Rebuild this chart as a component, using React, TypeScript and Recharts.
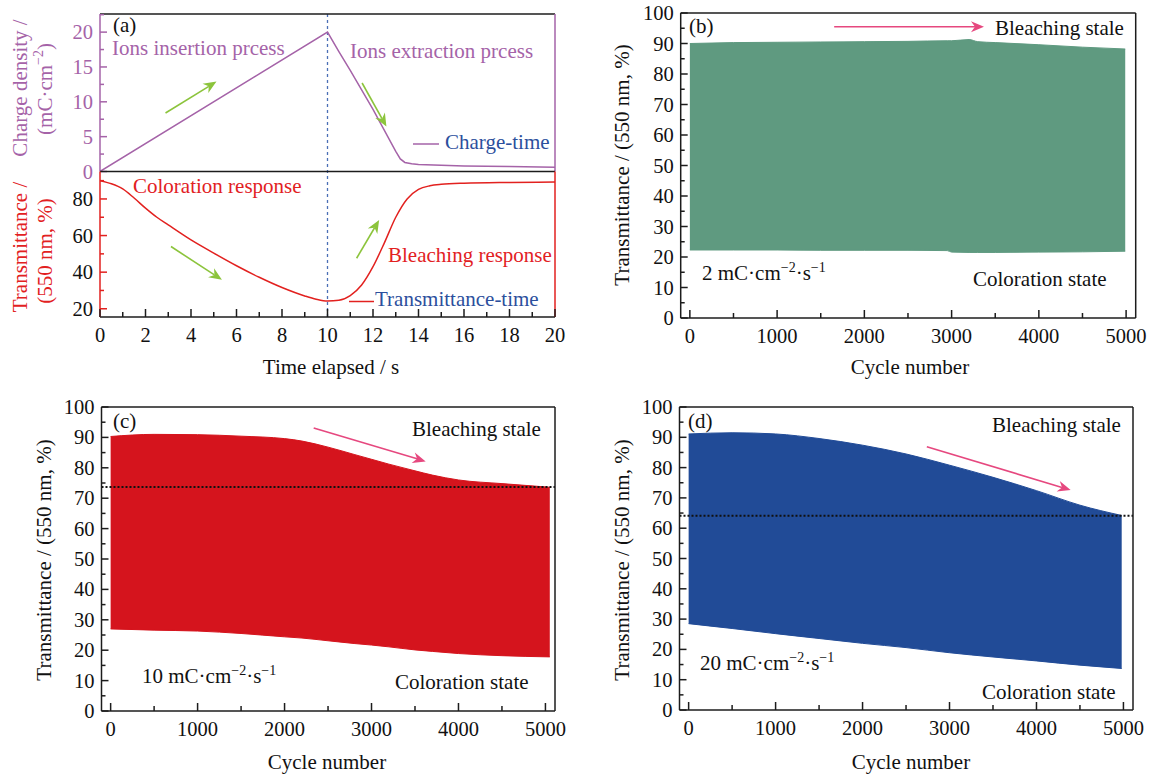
import React from "react";
import { LineChart, ComposedChart, Line, Area, XAxis, YAxis, ReferenceLine } from "recharts";

const FONT = '"Liberation Serif", "Times New Roman", serif';
const PURPLE = "#a563a8";
const RED = "#e2211f";
const BLUE = "#2c4f9d";
const GREEN_ARROW = "#8cc43c";
const PINK = "#e6487f";
const AXIS = "#1c1c1c";

// (a) charge density vs time
const chargeTime = [0, 10, 10.5, 11, 11.5, 12, 12.5, 13, 13.2, 13.4, 13.7, 14, 15, 16, 18, 20];
const chargeValues = [0, 20, 17.2, 14.5, 11.7, 8.9, 5.9, 2.9, 1.8, 1.3, 1.1, 1.0, 0.9, 0.8, 0.7, 0.6];

// (a) transmittance vs time
const transTime = [0, 0.5, 1, 1.5, 2, 2.5, 3, 4, 5, 6, 7, 8, 9, 9.5, 10, 10.5, 11, 11.5, 12, 12.5, 13, 13.5, 14, 14.5, 15, 16, 18, 20];
const transValues = [90, 88.3, 85.5, 80.5, 75, 70, 65.8, 57.6, 50.4, 43.5, 37.2, 31.6, 27, 25.2, 24.2, 24.6, 27.2, 33, 43, 56, 70, 80, 85.2, 87.2, 88, 88.6, 89, 89.2];

const timeTicks = [0, 1, 2, 3, 4, 5, 6, 7, 8, 9, 10, 11, 12, 13, 14, 15, 16, 17, 18, 19, 20];
const timeMajors = [0, 2, 4, 6, 8, 10, 12, 14, 16, 18, 20];
const chargeTicks = [0, 2.5, 5, 7.5, 10, 12.5, 15, 17.5, 20, 22.5];
const chargeMajors = [0, 5, 10, 15, 20];
const transTicks = [20, 30, 40, 50, 60, 70, 80, 90];
const transMajors = [20, 40, 60, 80];

// (b) 2 mC cm-2 s-1
const cyclesB = [0, 500, 1000, 1500, 2000, 2500, 2950, 3000, 3200, 3300, 3500, 4000, 4500, 4990];
const upperB = [90.0, 90.3, 90.4, 90.5, 90.6, 90.7, 90.9, 90.9, 91.3, 90.6, 90.3, 89.6, 88.8, 88.2];
const lowerB = [22.3, 22.3, 22.3, 22.2, 22.2, 22.2, 22.1, 21.6, 21.5, 21.5, 21.5, 21.6, 21.7, 21.9];

// (c) 10 mC cm-2 s-1
const cyclesC = [0, 500, 1000, 1500, 2000, 2200, 2500, 2800, 3000, 3200, 3500, 3700, 4000, 4500, 5050];
const upperC = [90.3, 91.0, 90.9, 90.4, 89.6, 88.8, 86.8, 84.4, 82.8, 81.2, 79.0, 77.6, 76.0, 74.8, 73.6];
const lowerC = [27.0, 26.6, 26.3, 25.5, 24.4, 24.0, 23.1, 22.2, 21.7, 21.1, 20.1, 19.6, 18.9, 18.2, 17.8];

// (d) 20 mC cm-2 s-1
const cyclesD = [0, 500, 1000, 1500, 2000, 2500, 3000, 3500, 4000, 4500, 4980];
const upperD = [91.1, 91.5, 91.1, 89.6, 87.4, 84.5, 80.8, 76.8, 72.4, 67.6, 64.2];
const lowerD = [28.5, 26.9, 25.2, 23.6, 22.0, 20.6, 18.9, 17.5, 16.2, 14.8, 13.7];

const cycleDomain = [-105, 5110];
const cycleTicks = [0, 500, 1000, 1500, 2000, 2500, 3000, 3500, 4000, 4500, 5000];
const cycleMajors = [0, 1000, 2000, 3000, 4000, 5000];
const pctTicks = [0, 5, 10, 15, 20, 25, 30, 35, 40, 45, 50, 55, 60, 65, 70, 75, 80, 85, 90, 95, 100];
const pctMajors = [0, 10, 20, 30, 40, 50, 60, 70, 80, 90, 100];

const chargeData = chargeTime.map((t, i) => ({ t, q: chargeValues[i] }));
const transData = transTime.map((t, i) => ({ t, tr: transValues[i] }));
const bandB = cyclesB.map((c, i) => ({ cycle: c, range: [lowerB[i], upperB[i]] }));
const bandC = cyclesC.map((c, i) => ({ cycle: c, range: [lowerC[i], upperC[i]] }));
const bandD = cyclesD.map((c, i) => ({ cycle: c, range: [lowerD[i], upperD[i]] }));

function xTick(majors: number[], color: string) {
  return (p: any) => {
    const { x, y, payload } = p;
    const major = majors.includes(payload.value);
    return (
      <g>
        <line x1={x} y1={y} x2={x} y2={y - (major ? 8 : 5)} stroke={color} strokeWidth={1.5} />
        {major && (
          <text x={x} y={y + 25} textAnchor="middle" fontFamily={FONT} fontSize={20.5} fill="#111">
            {payload.value}
          </text>
        )}
      </g>
    );
  };
}

function yTick(majors: number[], color: string, labelColor: string) {
  return (p: any) => {
    const { x, y, payload } = p;
    const major = majors.includes(payload.value);
    return (
      <g>
        <line x1={x} y1={y} x2={x + (major ? 7 : 4)} y2={y} stroke={color} strokeWidth={1.5} />
        {major && (
          <text x={x - 7} y={y + 7} textAnchor="end" fontFamily={FONT} fontSize={20.5} fill={labelColor}>
            {payload.value}
          </text>
        )}
      </g>
    );
  };
}

const arrowShape = (color: string, width = 1.6) => (p: any) => {
  const { x1, y1, x2, y2 } = p;
  const a = Math.atan2(y2 - y1, x2 - x1);
  const cos = Math.cos(a);
  const sin = Math.sin(a);
  const L = 13, W = 5.5, N = 9;
  const bx = x2 - L * cos, by = y2 - L * sin;
  const nx = x2 - N * cos, ny = y2 - N * sin;
  const pts = [[x2, y2], [bx - W * sin, by + W * cos], [nx, ny], [bx + W * sin, by - W * cos]];
  return (
    <g>
      <line x1={x1} y1={y1} x2={nx} y2={ny} stroke={color} strokeWidth={width} />
      <polygon points={pts.map((q) => q.join(",")).join(" ")} fill={color} />
    </g>
  );
};

function BandPanel({ left, top, width, height, margin, data, color, dashY, arrow }: any) {
  const frame = { stroke: AXIS, strokeWidth: 1.5 };
  return (
    <div style={{ position: "absolute", left, top, width, height }}>
      <ComposedChart width={width} height={height} data={data} margin={margin}>
        <XAxis dataKey="cycle" type="number" domain={cycleDomain} allowDataOverflow ticks={cycleTicks} interval={0}
          tick={xTick(cycleMajors, AXIS)} tickLine={false} tickSize={0} tickMargin={0} height={1} axisLine={frame} />
        <XAxis xAxisId="t" orientation="top" type="number" domain={cycleDomain} allowDataOverflow ticks={[0]}
          tick={false} tickLine={false} height={1} axisLine={frame} />
        <YAxis type="number" domain={[0, 100]} allowDataOverflow ticks={pctTicks} interval={0}
          tick={yTick(pctMajors, AXIS, "#111")} tickLine={false} tickSize={0} tickMargin={0} width={1} axisLine={frame} />
        <YAxis yAxisId="r" orientation="right" type="number" domain={[0, 100]} allowDataOverflow ticks={[0]}
          tick={false} tickLine={false} width={1} axisLine={frame} />
        <Area dataKey="range" type="monotone" stroke={color} strokeWidth={1} fill={color} fillOpacity={1}
          isAnimationActive={false} dot={false} activeDot={false} />
        {dashY !== undefined && <ReferenceLine y={dashY} stroke="#111" strokeWidth={2} strokeDasharray="2 2" />}
        <ReferenceLine segment={arrow} shape={arrowShape(PINK)} />
      </ComposedChart>
    </div>
  );
}

function RateText({ x, y, n }: any) {
  return (
    <text x={x} y={y} fontSize={21} fill="#111">
      {n} mC·cm<tspan dy={-8} fontSize={14}>−2</tspan>
      <tspan dy={8}>·s</tspan>
      <tspan dy={-8} fontSize={14}>−1</tspan>
    </text>
  );
}

export default function App() {
  const purpleLine = { stroke: PURPLE, strokeWidth: 1.5 };
  const redLine = { stroke: RED, strokeWidth: 1.5 };
  const black = { stroke: AXIS, strokeWidth: 1.5 };
  return (
    <div style={{ position: "absolute", left: 0, top: 0, width: 1154, height: 775, background: "#fff", fontFamily: FONT }}>
      {/* (a) top: charge density */}
      <div style={{ position: "absolute", left: 0, top: 0, width: 580, height: 195 }}>
        <LineChart width={580} height={195} data={chargeData} margin={{ top: 13, right: 24, bottom: 23.5, left: 99 }}>
          <XAxis dataKey="t" orientation="top" type="number" domain={[0, 20]} allowDataOverflow ticks={[0]}
            tick={false} tickLine={false} height={1} axisLine={black} />
          <YAxis type="number" domain={[0, 22.6]} allowDataOverflow ticks={chargeTicks} interval={0}
            tick={yTick(chargeMajors, PURPLE, PURPLE)} tickLine={false} tickSize={0} tickMargin={0} width={1} axisLine={purpleLine} />
          <YAxis yAxisId="r" orientation="right" type="number" domain={[0, 22.6]} allowDataOverflow ticks={[0]}
            tick={false} tickLine={false} width={1} axisLine={purpleLine} />
          <ReferenceLine x={10} stroke="#4b6fb6" strokeWidth={1.3} strokeDasharray="3 3" />
          <Line dataKey="q" type="linear" stroke={PURPLE} strokeWidth={1.5} dot={false} isAnimationActive={false} />
          <ReferenceLine segment={[{ x: 2.88, y: 8.4 }, { x: 5.12, y: 12.9 }]} shape={arrowShape(GREEN_ARROW)} />
          <ReferenceLine segment={[{ x: 11.52, y: 12.7 }, { x: 12.59, y: 6.45 }]} shape={arrowShape(GREEN_ARROW)} />
        </LineChart>
      </div>

      {/* (a) bottom: transmittance */}
      <div style={{ position: "absolute", left: 0, top: 160, width: 580, height: 230 }}>
        <LineChart width={580} height={230} data={transData} margin={{ top: 10.5, right: 24, bottom: 72, left: 99 }}>
          <XAxis dataKey="t" type="number" domain={[0, 20]} allowDataOverflow ticks={timeTicks} interval={0}
            tick={xTick(timeMajors, AXIS)} tickLine={false} tickSize={0} tickMargin={0} height={1} axisLine={black} />
          <XAxis xAxisId="t" orientation="top" type="number" domain={[0, 20]} allowDataOverflow ticks={[0]}
            tick={false} tickLine={false} height={1} axisLine={black} />
          <YAxis type="number" domain={[15.5, 95]} allowDataOverflow ticks={transTicks} interval={0}
            tick={yTick(transMajors, RED, "#111")} tickLine={false} tickSize={0} tickMargin={0} width={1} axisLine={redLine} />
          <YAxis yAxisId="r" orientation="right" type="number" domain={[15.5, 95]} allowDataOverflow ticks={[20]}
            tick={false} tickLine={false} width={1} axisLine={redLine} />
          <ReferenceLine x={10} stroke="#4b6fb6" strokeWidth={1.3} strokeDasharray="3 3" />
          <Line dataKey="tr" type="monotone" stroke={RED} strokeWidth={1.5} dot={false} isAnimationActive={false} />
          <ReferenceLine segment={[{ x: 3.12, y: 54 }, { x: 5.36, y: 35.8 }]} shape={arrowShape(GREEN_ARROW)} />
          <ReferenceLine segment={[{ x: 11.28, y: 47.6 }, { x: 12.27, y: 68.5 }]} shape={arrowShape(GREEN_ARROW)} />
        </LineChart>
      </div>

      <BandPanel left={580} top={0} width={574} height={390} margin={{ top: 12, right: 17.3, bottom: 71, left: 99.7 }}
        data={bandB} color="#5f9a80" arrow={[{ x: 1654, y: 95.5 }, { x: 3371, y: 95.5 }]} />
      <BandPanel left={0} top={390} width={580} height={385} margin={{ top: 16, right: 24, bottom: 63, left: 100.5 }}
        data={bandC} color="#d5141d" dashY={73.7} arrow={[{ x: 2335, y: 93.1 }, { x: 3623, y: 82.1 }]} />
      <BandPanel left={580} top={390} width={574} height={385} margin={{ top: 16, right: 20, bottom: 64, left: 98.5 }}
        data={bandD} color="#214b97" dashY={64.1} arrow={[{ x: 2739, y: 86.9 }, { x: 4393, y: 72.6 }]} />

      <svg width={1154} height={775} style={{ position: "absolute", left: 0, top: 0, pointerEvents: "none" }} fontFamily={FONT}>
        {/* (a) annotations */}
        <text x={113} y={32} fontSize={21} fill="#111">(a)</text>
        <text x={112} y={55} fontSize={21} fill={PURPLE}>Ions insertion prcess</text>
        <text x={350} y={58} fontSize={21} fill={PURPLE}>Ions extraction prcess</text>
        <line x1={413} y1={144} x2={439} y2={144} stroke={PURPLE} strokeWidth={1.5} />
        <text x={445} y={149} fontSize={21} fill={BLUE}>Charge-time</text>
        <text x={133} y={193} fontSize={21} fill={RED}>Coloration response</text>
        <text x={388} y={262} fontSize={21} fill={RED}>Bleaching response</text>
        <line x1={349} y1={301.5} x2={374} y2={301.5} stroke={RED} strokeWidth={1.5} />
        <text x={375} y={306} fontSize={21} fill={BLUE}>Transmittance-time</text>
        <text x={331} y={374} fontSize={21} fill="#111" textAnchor="middle">Time elapsed / s</text>
        <g transform="rotate(-90 20 88)">
          <text x={20} y={88} fontSize={21} fill={PURPLE} textAnchor="middle" dominantBaseline="central">Charge density /</text>
        </g>
        <g transform="rotate(-90 45 89)">
          <text x={45} y={89} fontSize={21} fill={PURPLE} textAnchor="middle" dominantBaseline="central">
            (mC·cm<tspan dy={-7} fontSize={14}>−2</tspan><tspan dy={7}>)</tspan>
          </text>
        </g>
        <g transform="rotate(-90 20 247)">
          <text x={20} y={247} fontSize={21} fill={RED} textAnchor="middle" dominantBaseline="central">Transmittance /</text>
        </g>
        <g transform="rotate(-90 45 251)">
          <text x={45} y={251} fontSize={21} fill={RED} textAnchor="middle" dominantBaseline="central">(550 nm, %)</text>
        </g>

        {/* (b) */}
        <text x={689} y={33} fontSize={21} fill="#111">(b)</text>
        <text x={995} y={35} fontSize={21} fill="#111">Bleaching stale</text>
        <RateText x={702} y={280} n={2} />
        <text x={973} y={286} fontSize={21} fill="#111">Coloration state</text>
        <text x={910} y={374} fontSize={21} fill="#111" textAnchor="middle">Cycle number</text>
        <g transform="rotate(-90 622 165)">
          <text x={622} y={165} fontSize={21} fill="#111" textAnchor="middle" dominantBaseline="central">Transmittance / (550 nm, %)</text>
        </g>

        {/* (c) */}
        <text x={113} y={428} fontSize={21} fill="#111">(c)</text>
        <text x={412} y={436} fontSize={21} fill="#111">Bleaching stale</text>
        <RateText x={142} y={683} n={10} />
        <text x={395} y={689} fontSize={21} fill="#111">Coloration state</text>
        <text x={327} y={769} fontSize={21} fill="#111" textAnchor="middle">Cycle number</text>
        <g transform="rotate(-90 44 560)">
          <text x={44} y={560} fontSize={21} fill="#111" textAnchor="middle" dominantBaseline="central">Transmittance / (550 nm, %)</text>
        </g>

        {/* (d) */}
        <text x={688} y={428} fontSize={21} fill="#111">(d)</text>
        <text x={992} y={432} fontSize={21} fill="#111">Bleaching stale</text>
        <RateText x={700} y={670} n={20} />
        <text x={982} y={699} fontSize={21} fill="#111">Coloration state</text>
        <text x={911} y={769} fontSize={21} fill="#111" textAnchor="middle">Cycle number</text>
        <g transform="rotate(-90 622 560)">
          <text x={622} y={560} fontSize={21} fill="#111" textAnchor="middle" dominantBaseline="central">Transmittance / (550 nm, %)</text>
        </g>
      </svg>
    </div>
  );
}
